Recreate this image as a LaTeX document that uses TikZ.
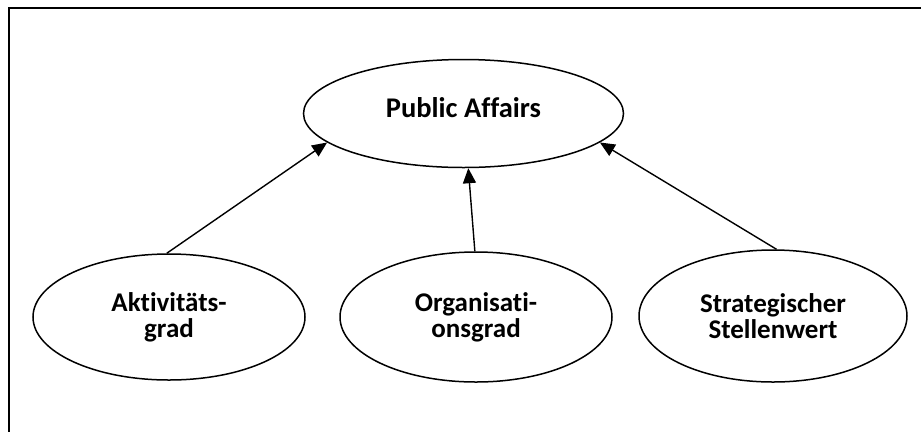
\documentclass[tikz,border=0pt]{standalone}
\usepackage{fontspec}
\setmainfont{Carlito}[Ligatures=NoCommon]
\usetikzlibrary{shapes.geometric,arrows.meta}
\begin{document}
\begin{tikzpicture}[x=1pt,y=-1pt,
  oval/.style={ellipse,draw,line width=1.5pt,inner sep=0pt,font=\bfseries\fontsize{27}{26}\selectfont,align=center},
  conn/.style={line width=1.4pt,-{Triangle[length=15pt,width=13pt]}}]
\useasboundingbox (0,0) rectangle (921,432);
\draw[line width=2.6pt] (921,8) -- (9,8) -- (9,432);
\node[oval,minimum width=320pt,minimum height=108pt,font=\bfseries\fontsize{28.5}{30}\selectfont] (pa) at (463.5,113.5) {\raisebox{13pt}{Public Affairs}};
\node[oval,minimum width=272pt,minimum height=126pt] (ak) at (169,317) {Akt\kern0pt ivität\kern0pt s-\\grad};
\node[oval,minimum width=272pt,minimum height=130pt] (og) at (476,317) {Organisat\kern0pt i-\\onsgrad};
\node[oval,minimum width=268pt,minimum height=132pt] (sw) at (773,316) {Strategischer\\Stellenwert};
\draw[conn] (ak.92) -- (pa.192);
\draw[conn] (og.91) -- (pa.275);
\draw[conn] (sw.87) -- (pa.-12);
\end{tikzpicture}
\end{document}
